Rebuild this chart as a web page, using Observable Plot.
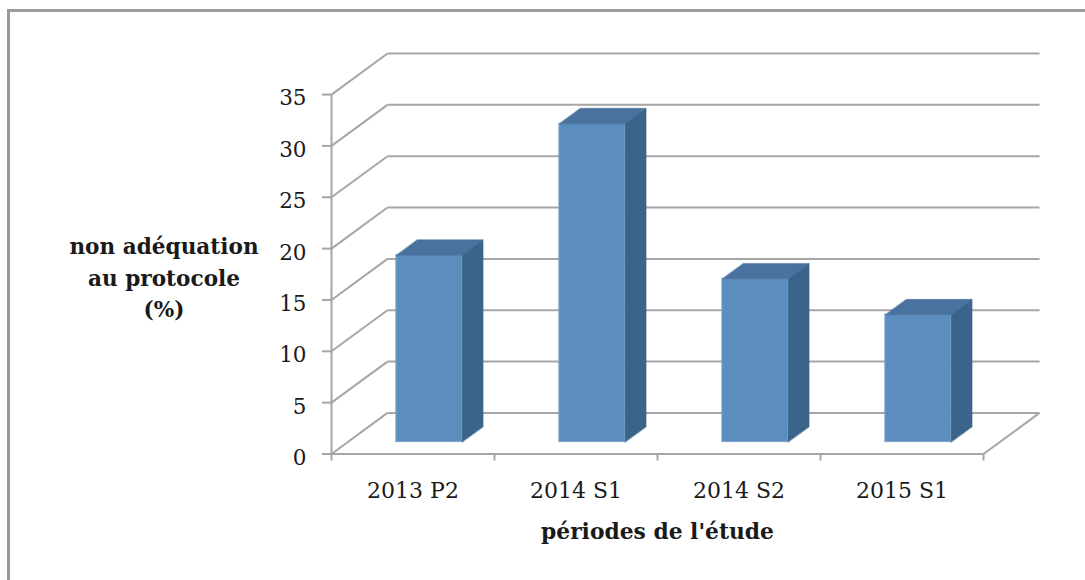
<!DOCTYPE html>
<html>
<head>
<meta charset="utf-8">
<script src="https://cdn.jsdelivr.net/npm/d3@7"></script>
<script src="https://cdn.jsdelivr.net/npm/@observablehq/plot@0.6"></script>
<style>
  html, body { margin: 0; padding: 0; background: #fff; }
  #wrap { position: relative; width: 1085px; height: 580px; overflow: hidden; }
  #wrap svg { position: absolute; left: 0; top: 0; }
  #frame { position: absolute; left: 7px; top: 9px; width: 1200px; height: 700px;
           border-left: 3px solid #9a9a9a; border-top: 3px solid #9a9a9a; pointer-events: none; }
</style>
</head>
<body>
<div id="wrap"><div id="frame"></div></div>
<script>
// ---- data ----
const categories = ["2013 P2", "2014 S1", "2014 S2", "2015 S1"];
const values = [18.2, 31.0, 15.9, 12.4];
const yTicks = [0, 5, 10, 15, 20, 25, 30, 35];
const yTitle = "non adéquation\nau protocole\n(%)";
const xTitle = "périodes de l'étude";

// ---- 3D projection (oblique): depth 0..1 shifts x and y in data units ----
const DX = 0.3436;   // category units per unit depth
const DY = 4.0;      // value units per unit depth
const yMax = 35;
const n = categories.length;
const z0 = 0.29, z1 = 0.665, hw = 0.2015;
const dz = z1 - z0;

// back wall gridlines and left-wall diagonals
const grid = yTicks.map(t => ({x1: DX, y1: t + DY, x2: n + DX, y2: t + DY}));
const diag = yTicks.map(t => ({x1: 0, y1: t, x2: DX, y2: t + DY}));
const floorLines = [
  {x1: 0, y1: 0, x2: n, y2: 0},
  {x1: n, y1: 0, x2: n + DX, y2: DY}
];

// bars
const bars = categories.map((c, i) => {
  const v = values[i];
  const x1 = i + 0.5 - hw + z0 * DX, x2 = i + 0.5 + hw + z0 * DX;
  const y1 = z0 * DY, y2 = v + z0 * DY;
  return {c, x1, x2, y1, y2};
});
const tops = bars.flatMap((b, i) => [
  [b.x1, b.y2], [b.x2, b.y2], [b.x2 + dz * DX, b.y2 + dz * DY], [b.x1 + dz * DX, b.y2 + dz * DY]
].map(([x, y]) => ({id: i, x, y})));
const sides = bars.flatMap((b, i) => [
  [b.x2, b.y1], [b.x2, b.y2], [b.x2 + dz * DX, b.y2 + dz * DY], [b.x2 + dz * DX, b.y1 + dz * DY]
].map(([x, y]) => ({id: i, x, y})));

const gridColor = "#a6a6a6";
const font = "'DejaVu Serif', serif";

const chart = Plot.plot({
  width: 1085,
  height: 580,
  marginLeft: 331,
  marginRight: 46,
  marginTop: 53,
  marginBottom: 126.5,
  style: {background: "transparent", fontFamily: font, color: "#1a1a1a", overflow: "visible"},
  x: {type: "linear", domain: [0, n + DX]},
  y: {type: "linear", domain: [0, yMax + DY]},
  marks: [
    Plot.link(grid, {x1: "x1", y1: "y1", x2: "x2", y2: "y2", stroke: gridColor, strokeWidth: 2}),
    Plot.link(diag, {x1: "x1", y1: "y1", x2: "x2", y2: "y2", stroke: gridColor, strokeWidth: 2}),
    Plot.link(floorLines, {x1: "x1", y1: "y1", x2: "x2", y2: "y2", stroke: gridColor, strokeWidth: 2}),
    Plot.ruleX([0], {y1: 0, y2: yMax, stroke: gridColor, strokeWidth: 2}),
    Plot.axisY({ticks: yTicks, tickSize: 9, tickFormat: () => "", stroke: gridColor, strokeWidth: 2, label: null}),
    Plot.axisX({ticks: d3.range(n + 1), tickSize: 7, tickFormat: () => "", stroke: gridColor, strokeWidth: 2, label: null}),
    Plot.text(yTicks, {x: 0, y: d => d, text: d => String(d), textAnchor: "end", dx: -25, dy: 4, fontSize: 21.5, fill: "#1a1a1a"}),
    Plot.text(categories, {x: (d, i) => i + 0.5, y: 0, text: d => d, dy: 37, fontSize: 22, fill: "#1a1a1a"}),
    Plot.text([xTitle], {x: n / 2, y: 0, text: d => d, dy: 78, fontSize: 21.8, fontWeight: "bold", fill: "#1a1a1a"}),
    Plot.text([yTitle], {frameAnchor: "left", text: d => d, dx: -167.5, dy: 22, lineHeight: 1.45, textAnchor: "middle", fontSize: 21.6, fontWeight: "bold", fill: "#1a1a1a"}),
    Plot.rect(bars, {x1: "x1", x2: "x2", y1: "y1", y2: "y2", fill: "#5b8dbf", stroke: "#7aa2cf", strokeWidth: 1}),
    Plot.line(tops, {x: "x", y: "y", z: "id", curve: "linear-closed", fill: "#4a729e", stroke: "#4a729e", strokeWidth: 0.5}),
    Plot.line(sides, {x: "x", y: "y", z: "id", curve: "linear-closed", fill: "#3a6489", stroke: "#3a6489", strokeWidth: 0.5})
  ]
});
document.getElementById("wrap").insertBefore(chart, document.getElementById("frame"));
</script>
</body>
</html>
